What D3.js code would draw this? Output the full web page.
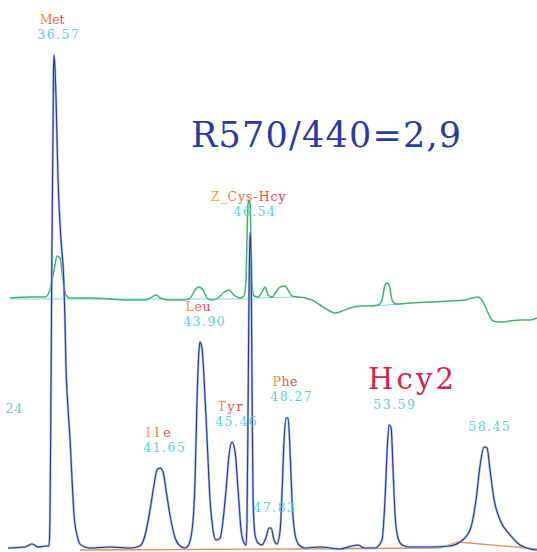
<!DOCTYPE html>
<html>
<head>
<meta charset="utf-8">
<script src="https://cdn.jsdelivr.net/npm/d3@7"></script>
<style>
    body { margin: 0; background: #fff; }
    svg { display: block; }
    text { font-family: "DejaVu Serif", "Liberation Serif", serif; }
    .peak-name, .peak-time, .edge-label { font-size: 12.5px; }
    .peak-time, .edge-label { fill: #5ccfd9; }
</style>
</head>
<body>
<svg id="chart"></svg>
<script>
// 570 nm trace (blue): retention time (min) and signal
const blueTime = [34.29, 35.15, 35.50, 35.81, 36.21, 36.36, 36.41, 36.46, 36.51, 36.57, 36.59, 36.62, 36.67, 36.72, 36.82, 36.97, 37.12, 37.17, 37.22, 37.33, 37.43, 37.53, 37.63, 37.78, 37.93, 38.19,
    38.44, 39.45, 40.47, 40.97, 41.23, 41.48, 41.68, 41.83, 41.99, 42.14, 42.29, 42.49, 42.75, 43.00, 43.25,
    43.40, 43.61, 43.76, 43.86, 43.96, 44.01, 44.11, 44.22, 44.37, 44.52, 44.67, 44.82,
    45.03, 45.18, 45.33, 45.48, 45.63, 45.79, 45.94, 46.09, 46.24, 46.34,
    46.39, 46.44, 46.49, 46.55, 46.60, 46.65, 46.70, 46.80, 46.95,
    47.15, 47.36, 47.51, 47.61, 47.76, 47.91,
    48.07, 48.17, 48.27, 48.37, 48.47, 48.57, 48.67, 48.83, 49.03, 49.33,
    50.09, 51.10, 51.71, 52.02, 52.32, 52.88,
    53.23, 53.38, 53.49, 53.59, 53.69, 53.79, 53.89, 54.04, 54.25, 54.65,
    55.66, 56.68, 57.18, 57.69, 57.99, 58.20, 58.40, 58.55, 58.70, 58.91, 59.21, 59.72, 60.22, 60.73, 61.08];
const blueSignal = [0, 0.2, 0.8, 0.2, 0.4, 0.4, 5.6, 29.6, 59.6, 85.6, 95.6, 98.6, 95.6, 89.6, 73.6, 61.6, 52.6, 45.6, 36.6, 27.6, 21.6, 13.6, 6.6, 2.6, 0.8, 0.2,
    0, 0.2, 0, 0.4, 2.6, 7.6, 12.6, 15.6, 16.0, 15.2, 11.6, 6.6, 2.0, 0.4, 0,
    0.4, 3.6, 13.6, 29.6, 39.6, 41.2, 40.0, 33.6, 21.6, 9.6, 3.6, 1.6,
    2.0, 5.6, 11.6, 18.6, 21.2, 19.2, 11.6, 3.6, 1.0, 0.6,
    5.6, 25.6, 49.6, 63.2, 57.6, 29.6, 9.6, 2.6, 1.0,
    0.6, 2.2, 4.0, 4.0, 1.6, 0.8,
    3.6, 11.6, 21.6, 26.0, 26.0, 19.6, 9.6, 2.6, 0.6, 0,
    0.2, -0.2, 0.4, 0.6, 0, 0,
    1.6, 9.6, 19.6, 24.6, 24.0, 15.6, 6.6, 2.0, 0.6, 0.2,
    0.2, 0.4, 1.2, 3.6, 9.6, 16.6, 20.2, 20.0, 15.6, 9.6, 5.6, 2.6, 0.6, -0.2, -0.4];

// 440 nm trace (green)
const greenTime = [34.39, 35.40, 36.16, 36.41, 36.62, 36.77, 36.92, 37.07, 37.22, 37.43, 38.44, 39.45, 40.47, 41.23, 41.58, 41.78, 41.99, 42.49, 43.25,
    43.51, 43.76, 43.96, 44.16, 44.37, 44.62, 44.92, 45.18, 45.48, 45.73, 46.04, 46.24,
    46.34, 46.39, 46.44, 46.49, 46.55, 46.60, 46.65, 46.75, 46.95,
    47.15, 47.31, 47.46, 47.66, 47.86, 48.07, 48.32, 48.47, 48.67, 48.98, 49.33, 49.69,
    50.09, 50.50, 50.85, 51.21, 51.61, 52.12, 52.62, 53.03, 53.23, 53.38, 53.49, 53.59, 53.74, 53.94,
    54.65, 55.66, 56.68, 57.44, 57.79, 58.05, 58.25, 58.45, 58.65, 58.86, 59.21, 59.72, 60.22, 60.73, 61.08];
const greenSignal = [8.4, 8.6, 8.6, 10.0, 14.0, 16.8, 16.4, 12.0, 9.0, 8.4, 8.4, 8.2, 8.0, 8.0, 8.6, 9.0, 8.4, 8.0, 8.0,
    8.4, 10.0, 10.6, 10.0, 8.4, 8.0, 8.4, 9.4, 10.0, 9.0, 8.4, 8.8,
    12.0, 20.0, 27.0, 28.0, 27.0, 18.0, 11.0, 8.8, 8.6,
    9.6, 10.6, 9.0, 8.6, 9.6, 10.6, 10.8, 10.0, 8.8, 8.6, 8.4, 8.0,
    7.0, 6.0, 5.4, 5.8, 6.4, 6.8, 6.8, 7.0, 8.0, 11.0, 11.4, 11.0, 8.0, 7.2,
    7.4, 7.6, 7.8, 8.0, 8.4, 8.6, 8.2, 6.8, 5.0, 3.8, 3.6, 3.8, 4.0, 4.0, 4.4];

// integration baselines
const greenBaseTime = [[34.39, 46.80], [46.80, 48.93], [52.72, 54.25]];
const greenBaseSignal = [[8.2, 8.2], [8.4, 8.6], [6.8, 7.2]];
const blueBaseTime = [37.93, 49.08, 56.17, 57.08, 61.08];
const blueBaseSignal = [-0.4, -0.2, 0, 1.2, -0.2];

// peak annotations
const peakNames = ["Met", "Ile", "Leu", "Tyr", "Z_Cys-Hcy", "", "Phe", "", ""];
const peakLabels = ["36.57", "41.65", "43.90", "45.46", "46.54", "47.83", "48.27", "53.59", "58.45"];
const peakApexTime = [36.62, 41.99, 44.01, 45.63, 46.55, 47.56, 48.42, 53.64, 58.45];
const peakApexSignal = [98.6, 16.0, 41.2, 21.2, 63.2, 4.0, 26.2, 24.6, 20.2];
const edgeLabel = "24";
const edgeLabelTime = 35.0;
const edgeLabelSignal = 27;

const ratioText = "R570/440=2,9";
const sampleText = "Hcy2";

// typewriter look: stretch the text to a fixed width per character
function monoText(text, str, x0, cell) {
    text.attr('x', x0)
        .attr('textLength', str.length * cell)
        .attr('lengthAdjust', 'spacing')
        .text(str);
}

class Chromatogram {
    constructor(_config) {
        this.config = {
            parentElement: _config.parentElement,
            containerWidth: _config.containerWidth || 537,
            containerHeight: _config.containerHeight || 552,
            cell: 8.3
        };
        this.initVis();
    }

    initVis() {
        let vis = this;

        vis.svg = d3.select(vis.config.parentElement)
            .attr('width', vis.config.containerWidth)
            .attr('height', vis.config.containerHeight);

        vis.xScale = d3.scaleLinear()
            .domain([33.88, 61.08])
            .range([0, vis.config.containerWidth]);

        // blue trace sits on the bottom, green trace is offset upwards
        vis.yBlue = d3.scaleLinear().domain([0, 100]).range([548, 48]);
        vis.yGreen = d3.scaleLinear().domain([0, 50]).range([340, 90]);

        const grad = vis.svg.append('defs').append('linearGradient')
            .attr('id', 'nameGrad')
            .attr('x1', '0%').attr('x2', '100%');
        grad.append('stop').attr('offset', '0%').attr('stop-color', '#f0a840');
        grad.append('stop').attr('offset', '35%').attr('stop-color', '#e8703c');
        grad.append('stop').attr('offset', '100%').attr('stop-color', '#e03a4c');

        vis.renderVis();
    }

    renderVis() {
        let vis = this;
        const cell = vis.config.cell;

        const lineBlue = d3.line()
            .x(i => vis.xScale(blueTime[i]))
            .y(i => vis.yBlue(blueSignal[i]))
            .curve(d3.curveMonotoneX);

        const lineGreen = d3.line()
            .x(i => vis.xScale(greenTime[i]))
            .y(i => vis.yGreen(greenSignal[i]))
            .curve(d3.curveMonotoneX);

        // baselines
        greenBaseTime.forEach((seg, k) => {
            vis.svg.append('path')
                .attr('d', d3.line()(seg.map((t, j) => [vis.xScale(t), vis.yGreen(greenBaseSignal[k][j])])))
                .attr('fill', 'none')
                .attr('stroke', '#7fd6e6')
                .attr('stroke-width', 1.2);
        });

        vis.svg.append('path')
            .attr('d', d3.line()(blueBaseTime.map((t, j) => [vis.xScale(t), vis.yBlue(blueBaseSignal[j])])))
            .attr('fill', 'none')
            .attr('stroke', '#ea8a5a')
            .attr('stroke-width', 1.3);

        // green 440 nm
        vis.svg.append('path')
            .attr('d', lineGreen(d3.range(greenTime.length)))
            .attr('fill', 'none')
            .attr('stroke', '#3fb36e')
            .attr('stroke-width', 1.5);

        // blue 570 nm, light halo under a dark line
        vis.svg.append('path')
            .attr('d', lineBlue(d3.range(blueTime.length)))
            .attr('fill', 'none')
            .attr('stroke', '#a4c4ee')
            .attr('stroke-width', 2.4);
        vis.svg.append('path')
            .attr('d', lineBlue(d3.range(blueTime.length)))
            .attr('fill', 'none')
            .attr('stroke', '#2f3490')
            .attr('stroke-width', 1.1);

        // peak labels
        d3.range(peakLabels.length).forEach(i => {
            const cx = vis.xScale(peakApexTime[i]);
            const yTime = vis.yBlue(peakApexSignal[i]) - 16;

            vis.svg.append('text')
                .attr('class', 'peak-time')
                .attr('y', yTime)
                .call(monoText, peakLabels[i], cx + 4 - peakLabels[i].length * cell / 2, cell);

            if (peakNames[i]) {
                vis.svg.append('text')
                    .attr('class', 'peak-name')
                    .attr('fill', 'url(#nameGrad)')
                    .attr('y', yTime - 15)
                    .call(monoText, peakNames[i], cx - 2 - peakNames[i].length * cell / 2, cell);
            }
        });

        vis.svg.append('text')
            .attr('class', 'edge-label')
            .attr('y', vis.yBlue(edgeLabelSignal))
            .call(monoText, edgeLabel, vis.xScale(edgeLabelTime) - edgeLabel.length * cell, cell);

        // annotations
        vis.svg.append('text')
            .attr('y', 147)
            .attr('font-size', 35)
            .attr('fill', '#2b3aa3')
            .call(monoText, ratioText, 191, 22.5);

        vis.svg.append('text')
            .attr('y', 389)
            .attr('font-size', 29)
            .attr('fill', '#d2224e')
            .call(monoText, sampleText, 368, 21.5);
    }
}

new Chromatogram({ parentElement: '#chart' });
</script>
</body>
</html>
